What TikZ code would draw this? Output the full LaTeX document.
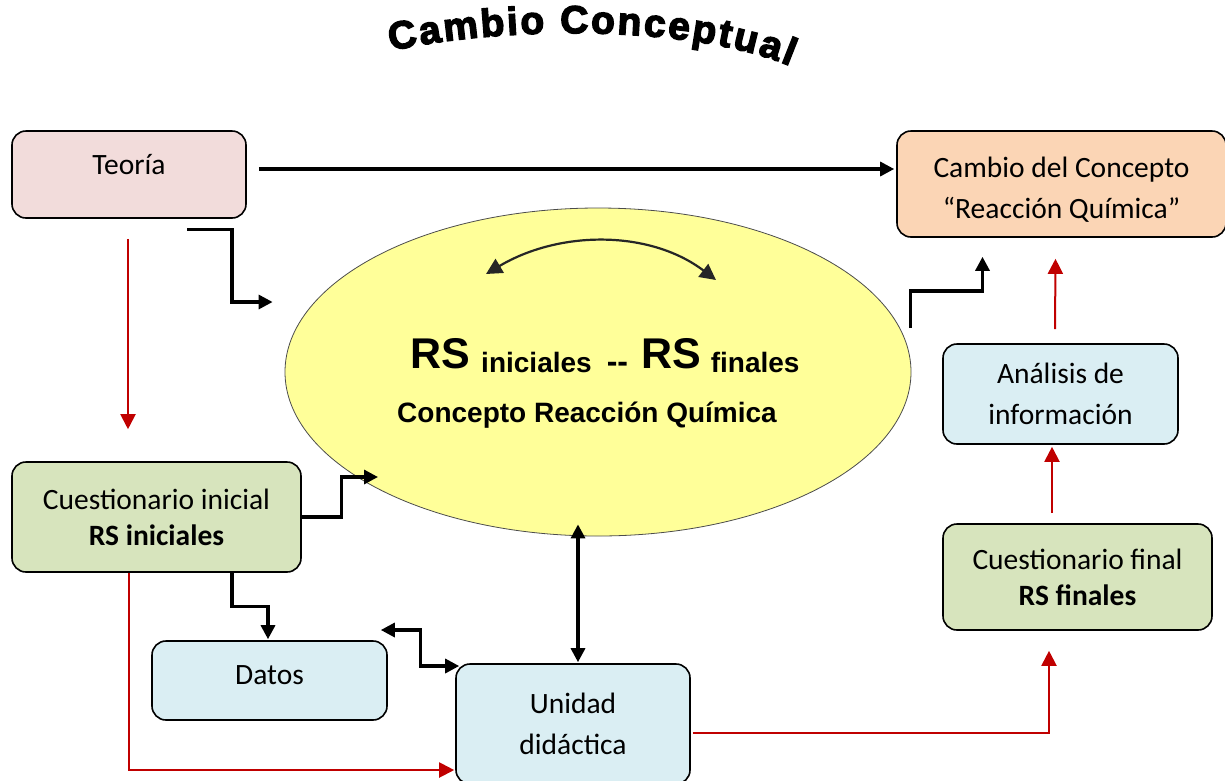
\documentclass[tikz,border=0pt]{standalone}
\usepackage{fontspec}
\setmainfont{Carlito}
\newfontfamily\rsfont{Liberation Sans}[UprightFont=*-Bold]
\newfontfamily\titlef{Liberation Sans}[UprightFont=*-Bold,UprightFeatures={FakeBold=3.5}]
\usetikzlibrary{shapes.geometric,arrows.meta,calc,decorations.text}
\definecolor{pinkf}{HTML}{F2DCDB}
\definecolor{peachf}{HTML}{FBD5B5}
\definecolor{greenf}{HTML}{D7E4BD}
\definecolor{bluef}{HTML}{DAEEF3}
\definecolor{yellf}{HTML}{FFFF99}
\definecolor{redc}{HTML}{C00000}
\tikzset{
  box/.style={draw=black, line width=1.6pt, rounded corners=14pt, align=center,
    font=\fontsize{29.5}{41}\selectfont, inner sep=0pt},
  tight/.style={font=\fontsize{29.5}{36}\selectfont},
  blk/.style={draw=black, line width=3.2pt, -{Triangle[length=14pt,width=14pt]}},
  blk2/.style={draw=black, line width=3.2pt, {Triangle[length=14pt,width=14pt]}-{Triangle[length=14pt,width=14pt]}},
  redl/.style={draw=redc, line width=2pt, -{Triangle[length=15pt,width=15pt]}},
}
\begin{document}
\begin{tikzpicture}[x=1pt,y=-1pt]
\useasboundingbox (0,0) rectangle (1225,780);
% title
\path[decorate, decoration={text along path, text align=fit to path,
  text={|\titlef\fontsize{39}{39}\selectfont|Cambio Conceptual}}]
  (391,51) .. controls (500,26) and (690,24) .. (790,66);
% boxes
\node[box, fill=pinkf, minimum width=234pt, minimum height=87pt, text depth=20pt] (teoria) at (129,174.5) {Teoría};
\node[box, fill=peachf, minimum width=329pt, minimum height=106pt] (cambio) at (1061.5,184) {\rule{0pt}{32pt}Cambio del Concepto\\“Reacción Química”};
\node[ellipse, draw=black!70, line width=0.8pt, fill=yellf, minimum width=626pt, minimum height=328pt, inner sep=0pt] (ell) at (598,372) {};
\node[anchor=base, inner sep=0pt] (rs) at (605,368) {\rsfont\fontsize{43}{43}\selectfont RS\kern11pt\raisebox{-4pt}{\fontsize{28}{28}\selectfont iniciales}\kern15pt\raisebox{-4pt}{\fontsize{32}{32}\selectfont --}\kern13pt RS\kern10pt\raisebox{-4pt}{\fontsize{28}{28}\selectfont finales}};
\node[anchor=base, inner sep=0pt] (concepto) at (587,422) {\rsfont\fontsize{28}{28}\selectfont Concepto Reacción Química};
\node[box, tight, fill=greenf, minimum width=289pt, minimum height=110pt] (ci) at (156.5,517) {Cuestionario inicial\\\textbf{RS iniciales}};
\node[box, fill=bluef, minimum width=235pt, minimum height=79pt, text depth=10pt] (datos) at (269.5,680.5) {Datos};
\node[box, fill=bluef, minimum width=234pt, minimum height=120pt] (unidad) at (573,724) {Unidad\\didáctica};
\node[box, tight, fill=greenf, minimum width=269pt, minimum height=106pt] (cf) at (1077.5,577) {Cuestionario final\\\textbf{RS finales}};
\node[box, fill=bluef, minimum width=235pt, minimum height=100pt] (an) at (1060.5,394) {Análisis de\\información};
% curved double arrow inside ellipse
\draw[draw=black!85, line width=2.2pt, {Triangle[length=16pt,width=16pt]}-{Triangle[length=16pt,width=16pt]}]
  ($(ell.center)+(-112,-98)$) .. controls ($(ell.center)+(-38,-142)$) and ($(ell.center)+(52,-142)$) .. ($(ell.center)+(118,-92)$);
% black connectors
\draw[blk] ($(teoria.east)+(12,-5.5)$) -- ($(cambio.west)+(-2,-15)$);
\draw[blk] ($(teoria.south)+(58,11)$) -- ++(45,0) |- ($(ell.west)+(-12,-70)$);
\draw[blk] (ci.east) -- ++(40,0) |- ($(ell.center)+(-220,105)$);
\draw[blk] ($(ci.south)+(75.5,0)$) -- ++(0,34) -| ($(datos.north)+(-1.5,-1)$);
\draw[blk2] ($(datos.east)+(-7,-50.5)$) -- ++(40,0) |- ($(unidad.west)+(4,-58)$);
\draw[blk2] ($(ell.south)+(-20,-12)$) -- ($(unidad.north)+(5,-1)$);
\draw[blk] ($(ell.east)+(-1,-44)$) -- ++(0,-37) -| ($(cambio.south)+(-79,19)$);
% red connectors
\draw[redl] ($(teoria.south)+(-1,20)$) -- ($(ci.north)+(-28.5,-32)$);
\draw[redl] ($(ci.south)+(-27.5,0)$) |- ($(unidad.west)+(-1,46)$);
\draw[redl] ($(unidad.east)+(2,9)$) -| ($(cf.south)+(-28.5,20)$);
\draw[redl] ($(cf.north)+(-25.5,-10)$) -- ($(an.south)+(-8.5,2)$);
\draw[redl] ($(an.north)+(-5.5,-14)$) -- ($(cambio.south)+(-6,21)$);
\end{tikzpicture}
\end{document}
